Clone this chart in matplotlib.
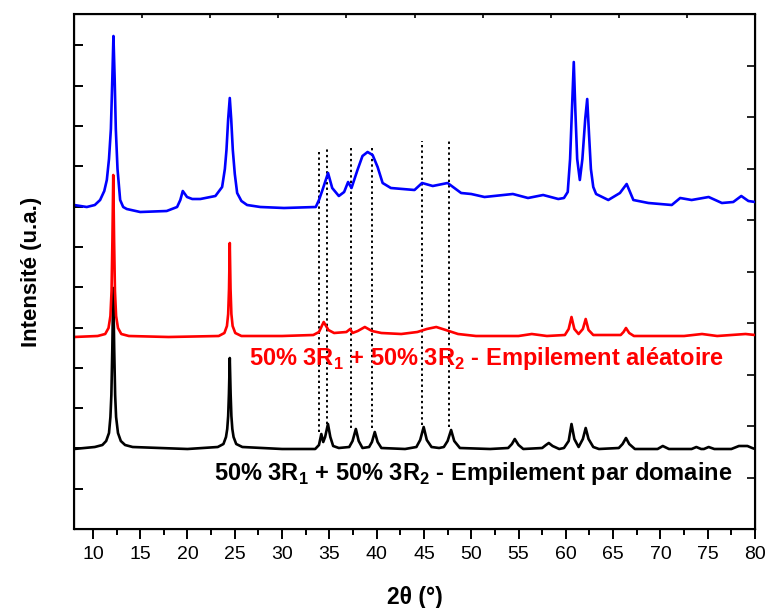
import numpy as np
import matplotlib
matplotlib.use("Agg")
import matplotlib.pyplot as plt
from matplotlib.ticker import MultipleLocator

plt.rcParams['font.family'] = ['Liberation Sans', 'DejaVu Sans']
plt.rcParams['mathtext.fontset'] = 'custom'
plt.rcParams['mathtext.bf'] = 'Liberation Sans:bold'
plt.rcParams['mathtext.rm'] = 'Liberation Sans'

# ---- data (2theta in degrees, intensity in arbitrary units incl. vertical offset) ----
black_x = [8.0, 10.2, 11.0, 11.4, 11.7, 11.85, 11.95, 12.05, 12.15, 12.25, 12.35, 12.45, 12.65, 12.95, 13.4, 14.2,
           20.0,
           23.2, 23.8, 24.07, 24.2, 24.3, 24.38, 24.47, 24.56, 24.64, 24.74, 24.87, 25.15, 25.8,
           30.0, 33.5, 33.9, 34.15, 34.35, 34.55, 34.85, 35.1, 35.4, 36.0,
           37.1, 37.45, 37.8, 38.1, 38.5,
           39.2, 39.5, 39.8, 40.1, 40.5,
           43.0, 44.2, 44.6, 44.97, 45.3, 45.8,
           46.6, 47.1, 47.5, 47.87, 48.2, 48.8,
           52.0, 53.9, 54.3, 54.6, 55.0, 55.5,
           57.5, 57.9, 58.2, 58.6, 59.3,
           59.8, 60.3, 60.6, 60.9, 61.35, 61.8, 62.1, 62.4, 62.9, 63.5,
           65.6, 66.0, 66.36, 66.7, 67.3,
           69.7, 70.25, 70.9,
           73.3, 73.8, 74.3, 74.6, 75.1, 75.7,
           77.5, 78.3, 79.2, 79.7, 80.0]
black_y = [80, 82, 84, 88, 96, 112, 134, 180, 241, 180, 134, 112, 96, 88, 84, 82,
           80,
           82, 85, 92, 100, 113, 135, 171, 135, 113, 100, 92, 85, 82,
           80, 80, 84, 95, 87, 92, 105, 92, 83, 81,
           82, 88, 100, 88, 81,
           82, 87, 97, 87, 81,
           80, 82, 89, 102, 89, 82,
           81, 82, 88, 99, 88, 81,
           80, 81, 85, 90, 84, 80,
           81, 84, 86, 83, 80,
           81, 88, 105, 90, 82, 90, 101, 90, 82, 80,
           81, 85, 91, 85, 80,
           80, 83, 80,
           80, 82, 80, 80, 82, 80,
           80, 83, 83, 81, 80]

red_x = [8.0, 10.5, 11.3, 11.65, 11.85, 11.97, 12.06, 12.15, 12.24, 12.33, 12.45, 12.65, 13.0, 13.8,
         18.0, 23.3, 23.9, 24.17, 24.3, 24.39, 24.47, 24.55, 24.64, 24.77, 25.05, 25.7,
         30.0, 33.3, 33.9, 34.4, 34.9, 35.5, 36.8, 37.2, 37.45, 38.0, 38.75, 39.5, 40.5, 42.6,
         44.3, 45.3, 46.3, 47.3, 48.6, 50.5, 55.0, 56.4, 58.0,
         59.9, 60.3, 60.6, 60.9, 61.35, 61.8, 62.1, 62.4, 62.9,
         65.8, 66.1, 66.36, 66.7, 67.2, 72.5, 74.4, 76.0, 79.0, 80.0]
red_y = [192, 193, 195, 201, 213, 238, 288, 354, 288, 238, 213, 201, 195, 193,
         192, 193, 196, 203, 215, 240, 286, 240, 215, 203, 196, 193,
         193, 194, 197, 207, 199, 196, 197, 200, 196, 198, 202, 198, 196, 195,
         197, 200, 202, 199, 195, 193, 193, 195, 193,
         194, 200, 212, 200, 195, 200, 210, 199, 194,
         194, 197, 201, 196, 193, 193, 195, 193, 195, 194]

blue_x = [8.0, 9.35, 10.2, 10.76, 11.2, 11.47, 11.7, 11.9, 12.05, 12.17, 12.3, 12.42, 12.6, 12.88, 13.2, 13.58,
          15.0, 17.8, 18.9, 19.24, 19.5, 19.95, 20.5, 21.36, 22.95, 23.66, 23.95, 24.12, 24.3, 24.47,
          24.62, 24.79, 25.0, 25.25, 25.7, 26.3, 27.7,
          30.2, 33.56, 33.9, 34.27, 34.86, 35.3, 36.0, 36.56, 36.98, 37.34, 37.97, 38.5, 39.04, 39.57,
          40.1, 40.63, 41.5, 44.0, 44.8, 45.93, 47.5, 48.93, 50.0, 51.4,
          54.4, 56.0, 57.6, 59.2, 59.8, 60.2, 60.45, 60.65, 60.84, 61.0, 61.2, 61.48, 61.75, 62.05,
          62.26, 62.45, 62.65, 62.9, 63.2, 64.49,
          65.72, 66.43, 67.14, 68.73, 71.2, 72.09, 73.3, 75.1, 76.5, 77.7, 78.55, 79.3, 80.0]
blue_y = [324, 322, 324, 329, 338, 349, 370, 400, 450, 493, 450, 400, 360, 329, 322, 320,
          317, 318, 322, 329, 338, 332, 330, 330, 333, 342, 360, 379, 410, 431,
          410, 379, 355, 336, 328, 324, 322,
          321, 322, 329, 339, 356, 341, 333, 337, 347, 341, 359, 373, 377, 374,
          362, 346, 341, 339, 346, 343, 346, 336, 335, 332,
          335, 331, 334, 330, 331, 337, 370, 420, 467, 420, 370, 349, 370, 410,
          430, 395, 360, 342, 335, 329,
          336, 345, 329, 326, 324, 331, 329, 332, 326, 327, 333, 328, 327]

ref_lines_x = [33.9, 34.8, 37.3, 39.5, 44.8, 47.6]
ref_lines_bottom = [97, 105, 101, 101, 104, 102]
ref_lines_top = [380, 382, 383, 384, 388, 388]

label_red = r'50% 3R$_\mathbf{1}$ + 50% 3R$_\mathbf{2}$ - Empilement aléatoire'
label_black = r'50% 3R$_\mathbf{1}$ + 50% 3R$_\mathbf{2}$ - Empilement par domaine'

# ---- figure ----
fig = plt.figure(figsize=(7.66, 6.08), dpi=100)
ax = fig.add_axes([74/766, 1-529/608, (755-74)/766, (529-14)/608])

lw = 1.9
ax.plot(black_x, black_y, color='black', lw=lw, zorder=3)
ax.plot(red_x, red_y, color='#ff0000', lw=lw, zorder=3)
ax.plot(blue_x, blue_y, color='#0000ff', lw=lw, zorder=3)
ax.vlines(ref_lines_x, ref_lines_bottom, ref_lines_top, colors='black',
          linestyles=(0, (1.2, 1.6)), lw=1.4, zorder=2)

ax.text(26.5, 164, label_red, color='#ff0000', fontsize=17, fontweight='bold',
        va='baseline', ha='left')
ax.text(22.85, 49, label_black, color='black', fontsize=17, fontweight='bold',
        va='baseline', ha='left')

ax.set_xlim(8, 80)
ax.set_ylim(0, 515)
ax.xaxis.set_major_locator(MultipleLocator(5))
ax.xaxis.set_minor_locator(MultipleLocator(2.5))
ax.tick_params(axis='x', which='major', direction='out', length=7, width=1.4,
               labelsize=14, pad=5, top=False)
ax.tick_params(axis='x', which='minor', direction='out', length=4, width=1.4, top=False)
ax.set_yticks(np.arange(1, 13) * 40.3)
ax.tick_params(axis='y', which='both', direction='in', length=6.5, width=1.4,
               labelleft=False, right=False)
for s in ax.spines.values():
    s.set_linewidth(1.5)

ax.set_xlabel('2θ (°)', fontsize=16.5, fontweight='bold', labelpad=17)
ax.set_ylabel('Intensité (u.a.)', fontsize=16, fontweight='bold', labelpad=23)

axt = ax.twiny()
axt.set_xlim(0, 10)
axt.set_xticks(range(1, 10))
axt.tick_params(axis='x', direction='in', length=3, width=1.2, labeltop=False)

axr = ax.twinx()
axr.set_ylim(0, 10)
axr.set_yticks(range(1, 10))
axr.tick_params(axis='y', direction='in', length=6, width=1.2, labelright=False)

fig.savefig('out.png', dpi=100)
